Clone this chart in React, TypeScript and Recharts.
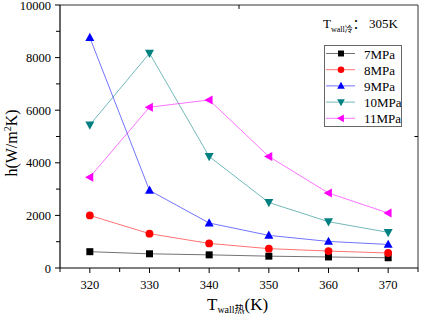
import React from 'react';
import { LineChart, Line, XAxis, YAxis, ReferenceLine, Customized } from 'recharts';

const temps = [320, 330, 340, 350, 360, 370];
const p7 = [620, 540, 500, 450, 420, 390];
const p8 = [2000, 1305, 935, 735, 645, 570];
const p9 = [8760, 2950, 1710, 1240, 1010, 895];
const p10 = [5440, 8165, 4240, 2490, 1760, 1355];
const p11 = [3455, 6115, 6390, 4240, 2850, 2090];
const xTicks = [315, 320, 325, 330, 335, 340, 345, 350, 355, 360, 365, 370, 375];
const yTicks = [0, 1000, 2000, 3000, 4000, 5000, 6000, 7000, 8000, 9000, 10000];

const FONT = "'Liberation Serif', 'Noto Sans CJK SC', serif";

const data = temps.map((t, i) => ({ t, p7: p7[i], p8: p8[i], p9: p9[i], p10: p10[i], p11: p11[i] }));

type Shape = 'square' | 'circle' | 'up' | 'down' | 'left';

const series: { key: string; name: string; color: string; shape: Shape }[] = [
  { key: 'p7', name: '7MPa', color: '#000000', shape: 'square' },
  { key: 'p8', name: '8MPa', color: '#ff0000', shape: 'circle' },
  { key: 'p9', name: '9MPa', color: '#0000ff', shape: 'up' },
  { key: 'p10', name: '10MPa', color: '#008080', shape: 'down' },
  { key: 'p11', name: '11MPa', color: '#ff00ff', shape: 'left' },
];

function marker(shape: Shape, cx: number, cy: number, color: string, s = 1) {
  switch (shape) {
    case 'square':
      return <rect x={cx - 3.5 * s} y={cy - 3.5 * s} width={7 * s} height={7 * s} fill={color} />;
    case 'circle':
      return <circle cx={cx} cy={cy} r={3.9 * s} fill={color} />;
    case 'up':
      return <polygon points={`${cx},${cy - 4.8 * s} ${cx - 4.5 * s},${cy + 3.4 * s} ${cx + 4.5 * s},${cy + 3.4 * s}`} fill={color} />;
    case 'down':
      return <polygon points={`${cx},${cy + 4.8 * s} ${cx - 4.5 * s},${cy - 3.4 * s} ${cx + 4.5 * s},${cy - 3.4 * s}`} fill={color} />;
    case 'left':
      return <polygon points={`${cx - 4.8 * s},${cy} ${cx + 3.4 * s},${cy - 4.5 * s} ${cx + 3.4 * s},${cy + 4.5 * s}`} fill={color} />;
  }
}

const makeDot = (shape: Shape, color: string) => (props: any) => {
  const { cx, cy, index } = props;
  if (cx == null || cy == null) return <g key={index} />;
  return <g key={`d-${index}`}>{marker(shape, cx, cy, color)}</g>;
};

const XTick = (props: any) => {
  const { x, y, payload } = props;
  const v = payload.value;
  const major = v % 10 === 0;
  return (
    <g>
      <line x1={x} x2={x} y1={y} y2={y + (major ? 5 : 4)} stroke="#000" strokeWidth={1} />
      {major && (
        <text x={x} y={y + 21} textAnchor="middle" fontSize={12.5} fontFamily={FONT} fill="#000">
          {v}
        </text>
      )}
    </g>
  );
};

const YTick = (props: any) => {
  const { x, y, payload } = props;
  const v = payload.value;
  const major = v % 2000 === 0;
  return (
    <g>
      <line x1={x - (major ? 5 : 4)} x2={x} y1={y} y2={y} stroke="#000" strokeWidth={1} />
      {major && (
        <text x={x - 9} y={y + 4.5} textAnchor="end" fontSize={12.5} fontFamily={FONT} fill="#000">
          {v}
        </text>
      )}
    </g>
  );
};

const Labels = () => (
  <g>
    <g transform="translate(324,45)">
      <rect x={0.5} y={0.5} width={77} height={81} fill="#fff" stroke="#666" strokeWidth={1} />
      {series.map((s, i) => {
        const cy = 8.5 + i * 16.2;
        return (
          <g key={s.key}>
            <line x1={2} x2={31} y1={cy} y2={cy} stroke={s.color} strokeOpacity={0.55} strokeWidth={1} />
            {marker(s.shape, 17, cy, s.color, 0.85)}
            <text x={40} y={cy + 5} fontSize={13} fontFamily={FONT} fill="#000">
              {s.name}
            </text>
          </g>
        );
      })}
    </g>
    <text transform="translate(17,143) rotate(-90)" textAnchor="middle" fontSize={16} fontFamily={FONT} fill="#000">
      h(W/m<tspan dy={-6} fontSize={10}>2</tspan>
      <tspan dy={6}>K)</tspan>
    </text>
    <text x={207} y={310} fontSize={17} fontFamily={FONT} fill="#000">
      T<tspan dy={3} fontSize={10}>wall热</tspan>
      <tspan dy={-3}>(K)</tspan>
    </text>
    <text x={323} y={28} fontSize={13} fontFamily={FONT} fill="#000">
      T<tspan dy={4} fontSize={8}>wall冷</tspan>
      <tspan dy={-4}>： 305K</tspan>
    </text>
  </g>
);

export default function App() {
  return (
    <div style={{ position: 'absolute', left: 0, top: 0, width: 425, height: 318, background: '#fff' }}>
      <LineChart width={425} height={318} data={data} margin={{ top: 5, right: 7, bottom: 0, left: 0 }}>
        <XAxis
          dataKey="t"
          type="number"
          domain={[315, 375]}
          ticks={xTicks}
          interval={0}
          height={50}
          tickSize={0}
          tickMargin={0}
          tickLine={false}
          tick={<XTick />}
          axisLine={{ stroke: '#000', strokeWidth: 1.2 }}
          allowDataOverflow
        />
        <YAxis
          type="number"
          domain={[0, 10000]}
          ticks={yTicks}
          interval={0}
          width={60}
          tickSize={0}
          tickMargin={0}
          tickLine={false}
          tick={<YTick />}
          axisLine={{ stroke: '#000', strokeWidth: 1.2 }}
          allowDataOverflow
        />
        <ReferenceLine y={10000} stroke="#333" strokeWidth={1} ifOverflow="visible" />
        <ReferenceLine x={375} stroke="#333" strokeWidth={1} ifOverflow="visible" />
        <ReferenceLine segment={[{ x: 345, y: 10000 }, { x: 345, y: 9850 }]} stroke="#000" ifOverflow="visible" />
        <ReferenceLine segment={[{ x: 374.4, y: 5000 }, { x: 375, y: 5000 }]} stroke="#000" ifOverflow="visible" />
        {series.map((s) => (
          <Line
            key={s.key}
            dataKey={s.key}
            name={s.name}
            stroke={s.color}
            strokeOpacity={0.55}
            strokeWidth={1}
            dot={makeDot(s.shape, s.color)}
            activeDot={false}
            isAnimationActive={false}
          />
        ))}
        <Customized component={<Labels />} />
      </LineChart>
    </div>
  );
}
